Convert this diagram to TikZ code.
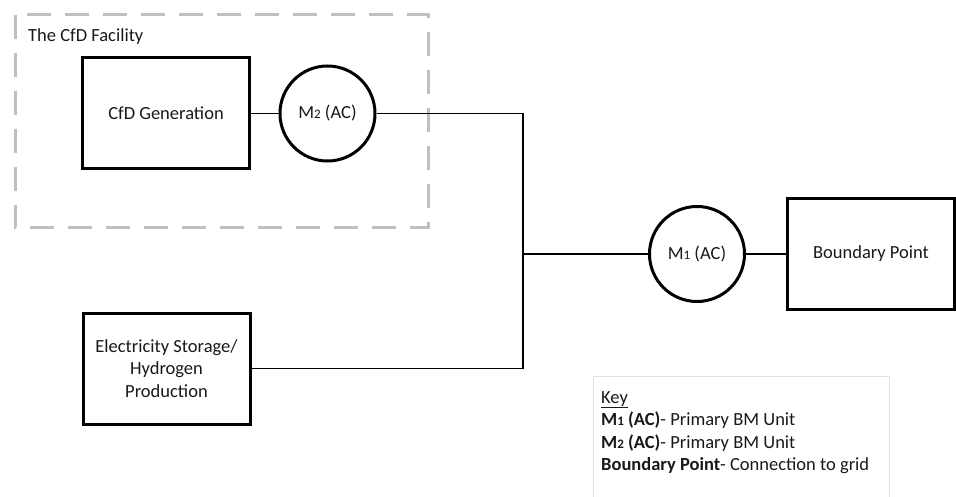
\documentclass[tikz,border=0pt]{standalone}
\usepackage{fontspec}
\setmainfont{Carlito}
\newcommand{\mnum}[1]{{\fontsize{13}{13}\selectfont #1}}

\begin{document}
\begin{tikzpicture}[x=1pt, y=-1pt,
    txt/.style={font=\fontsize{18.5}{22.5}\selectfont, text=black!90},
    unitbox/.style={txt, draw, line width=3pt, minimum width=167pt, minimum height=111pt, align=center, inner sep=0pt},
    meter/.style={txt, draw, circle, line width=3pt, minimum size=95pt, inner sep=0pt},
    wire/.style={line width=1.3pt}]
    \useasboundingbox (0,0) rectangle (956,497);
    \fill[white] (0,0) rectangle (956,497);

    \draw[line width=3pt, black!25, dash pattern=on 24pt off 14pt] (15,15) rectangle (428,228);
    \node[txt, anchor=west, inner sep=0pt] (fac) at (28,37) {The CfD Facility};

    \node[unitbox] (gen) at (166,113.5) {CfD Generation};
    \node[meter] (mtwo) at (327.5,113.5) {M\mnum{2} (AC)};
    \node[unitbox] (store) at (166.5,368.5) {Electricity Storage/\\Hydrogen\\Production};

    \coordinate (J) at (523,254);
    \node[meter] (mone) at (697,254) {M\mnum{1} (AC)};
    \node[unitbox] (bp) at (871,254) {Boundary Point};

    \draw[wire] (gen) -- (mtwo);
    \draw[wire] (mtwo) -| (J);
    \draw[wire] (store) -| (J);
    \draw[wire] (J) -- (mone);
    \draw[wire] (mone) -- (bp);

    \draw[black!12, line width=0.8pt] (593,376) rectangle (889,510);
    \node[txt, anchor=north west, align=left, inner sep=0pt] (key) at (601,391)
        {\underline{Key}\\
         \textbf{M\mnum{1} (AC)}- Primary BM Unit\\
         \textbf{M\mnum{2} (AC)}- Primary BM Unit\\
         \textbf{Boundary Point}- Connection to grid};
\end{tikzpicture}
\end{document}
